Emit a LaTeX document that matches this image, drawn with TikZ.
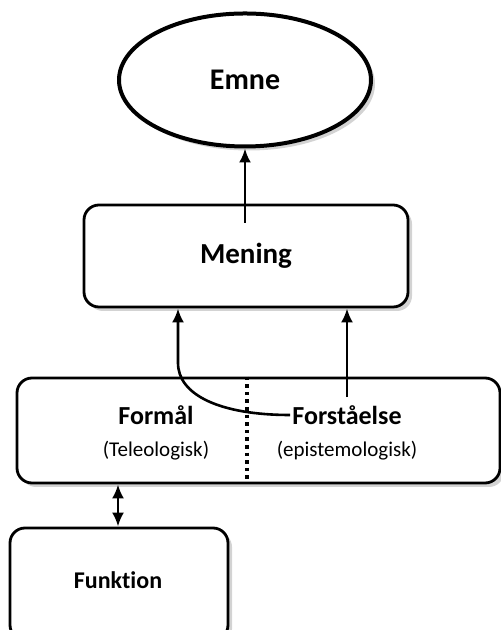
\documentclass[tikz,border=0pt]{standalone}
\usepackage{fontspec}
\setmainfont{Carlito}[Ligatures=NoCommon]
\usetikzlibrary{positioning,shapes,shadows,arrows.meta}

\begin{document}
\begin{tikzpicture}
[x=1pt, y=1pt,
 box/.style={draw, line width=1.4pt, rounded corners=7.5pt, fill=white,
   drop shadow={opacity=.35, shadow xshift=2pt, shadow yshift=-2pt}},
 lbl/.style={font=\fontsize{13}{15}\selectfont\bfseries, inner sep=1pt},
 sub/.style={font=\fontsize{10.5}{12}\selectfont, inner sep=1pt},
 arr/.style={line width=1.3pt, -{Latex[length=7pt,width=6pt]}}]
\useasboundingbox (0,0) rectangle (250.5,315);
\node[ellipse, draw, line width=2pt, fill=white, minimum width=126pt, minimum height=66.5pt,
  drop shadow={opacity=.35, shadow xshift=2pt, shadow yshift=-2pt},
  font=\fontsize{15}{18}\selectfont\bfseries] (emne) at (122.5,275) {Emne};
\node[box, minimum width=162pt, minimum height=51pt,
  font=\fontsize{14.5}{17}\selectfont\bfseries] (mening) at (123,187) {Mening};
\node[box, minimum width=241.5pt, minimum height=52.5pt] (grund) at (129.25,99.75) {};
\node[box, minimum width=109pt, minimum height=56pt] (funkbox) at (59.5,23) {};
\node[lbl, font=\fontsize{12}{14}\selectfont\bfseries] (funk) at (59,25) {Funktion};
\node[lbl] (formaal) at (78,107.5) {Formål};
\node[sub, below=16pt of formaal.base, anchor=base] (teleo) {(Teleologisk)};
\node[lbl] (forst) at (173.5,107.5) {Forståelse};
\node[sub, below=16pt of forst.base, anchor=base] (episte) {(epistemologisk)};
\draw[line width=1.8pt, dotted] (123.5,0 |- grund.north) -- (123.5,0 |- grund.south);
\coordinate (mtop) at (122.5,203.5);
\coordinate (bend) at (89,133.5);
\draw[arr] (mtop) -- (emne.south);
\draw[arr] (forst.west) .. controls +(-35,0) and +(0,-16) .. (bend) -- (bend |- mening.south);
\draw[arr] ([yshift=3pt]forst.north) -- (forst.north |- mening.south);
\draw[line width=1.3pt, {Latex[length=7pt,width=6pt]}-{Latex[length=7pt,width=6pt]}]
  (funkbox.north -| funk) -- (grund.south -| funk);
\end{tikzpicture}
\end{document}
